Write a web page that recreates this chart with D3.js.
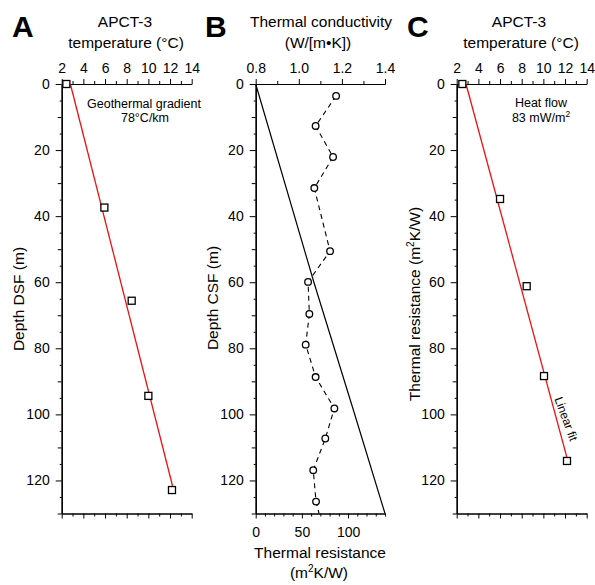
<!DOCTYPE html>
<html>
<head>
<meta charset="utf-8">
<script src="https://cdn.jsdelivr.net/npm/d3@7/dist/d3.min.js"></script>
<style>
  html, body { margin: 0; padding: 0; background: #fff; }
  svg { display: block; font-family: "Liberation Sans", Arial, Helvetica, sans-serif; }
</style>
</head>
<body>
<script>
// ---------------- DATA ----------------
const tempTicks = [2, 4, 6, 8, 10, 12, 14];
const depthTicks = [0, 20, 40, 60, 80, 100, 120];
const condTicks = [0.8, 1.0, 1.2, 1.4];
const resTicks = [0, 50, 100];

// Panel A: APCT-3 temperature vs depth
const depthA = [0, 37.4, 65.6, 94.4, 122.9];
const tempA = [2.43, 5.94, 8.46, 10.0, 12.18];
const fitADepth = [0, 122.5];
const fitATemp = [2.80, 12.30];

// Panel B: thermal conductivity vs depth
const depthB = [3.6, 12.7, 22.1, 31.5, 50.6, 59.9, 69.6, 78.9, 88.7, 98.2, 107.3, 116.9, 126.4];
const condB = [1.173, 1.078, 1.159, 1.072, 1.145, 1.043, 1.049, 1.032, 1.078, 1.165, 1.123, 1.067, 1.080];
const condTailDepth = [126.4, 130];
const condTail = [1.080, 1.094];
// Thermal resistance vs depth (solid line)
const resDepth = [0, 60, 98, 130];
const resistance = [0, 63, 105, 140];

// Panel C: temperature vs thermal resistance
const resC = [0, 34.8, 61.2, 88.4, 114.1];
const tempC = [2.52, 6.0, 8.46, 10.06, 12.18];
const fitCRes = [0, 114];
const fitCTemp = [2.86, 12.25];

// ---------------- LAYOUT ----------------
const W = 595, H = 585;
const yTop = 84, yBot = 513.5;
const svg = d3.select("body").append("svg").attr("width", W).attr("height", H);

const y = d3.scaleLinear().domain([0, 130]).range([yTop, yBot]);
const xA = d3.scaleLinear().domain([2, 14]).range([61.7, 191.7]);
const xB = d3.scaleLinear().domain([0.8, 1.4]).range([255.7, 385]);
const xBres = d3.scaleLinear().domain([0, 140]).range([255.7, 385]);
const xC = d3.scaleLinear().domain([2, 14]).range([456.7, 586.7]);

const TICK_FONT = "14px";

function styleAxis(g) {
  g.select(".domain").attr("stroke", "#000").attr("stroke-width", 1);
  g.selectAll(".tick line").attr("stroke", "#000").attr("stroke-width", 1);
  g.selectAll(".tick text").attr("fill", "#000").style("font-size", TICK_FONT);
}

function leftAxis(x0) {
  const g = svg.append("g").attr("transform", `translate(${x0},0)`);
  const minor5 = d3.range(5, 131, 10);
  const minor10 = d3.range(10, 131, 20);
  g.append("g").call(d3.axisLeft(y).tickValues(minor5).tickSize(2).tickFormat("").tickSizeOuter(0)).call(styleAxis);
  g.append("g").call(d3.axisLeft(y).tickValues(minor10).tickSize(4).tickFormat("").tickSizeOuter(0)).call(styleAxis);
  g.append("g").call(d3.axisLeft(y).tickValues(depthTicks).tickSize(6).tickPadding(6).tickSizeOuter(0)).call(styleAxis);
}

function tempAxes(x) {
  const minors = d3.range(3, 14, 2);
  // top
  const gt = svg.append("g").attr("transform", `translate(0,${yTop})`);
  gt.append("g").call(d3.axisTop(x).tickValues(minors).tickSize(3).tickFormat("").tickSizeOuter(0)).call(styleAxis);
  gt.append("g").call(d3.axisTop(x).tickValues(tempTicks).tickSize(5).tickPadding(6).tickSizeOuter(0)).call(styleAxis);
  // bottom (no labels)
  const gb = svg.append("g").attr("transform", `translate(0,${yBot})`);
  gb.append("g").call(d3.axisBottom(x).tickValues(minors).tickSize(3).tickFormat("").tickSizeOuter(0)).call(styleAxis);
  gb.append("g").call(d3.axisBottom(x).tickValues(tempTicks).tickSize(5).tickFormat("").tickSizeOuter(0)).call(styleAxis);
}

// ---------- Panel A ----------
leftAxis(xA.range()[0]);
tempAxes(xA);

const fitA = d3.range(fitADepth.length).map(i => [fitATemp[i], fitADepth[i]]);
svg.append("path").datum(fitA)
  .attr("d", d3.line().x(d => xA(d[0])).y(d => y(d[1])))
  .attr("fill", "none").attr("stroke", "#ee1111").attr("stroke-width", 1.3);

const sq = 7;
svg.append("g").selectAll("rect").data(d3.range(depthA.length)).join("rect")
  .attr("x", i => xA(tempA[i]) - sq / 2).attr("y", i => y(depthA[i]) - sq / 2)
  .attr("width", sq).attr("height", sq)
  .attr("fill", "#fff").attr("stroke", "#000").attr("stroke-width", 1.3);

// ---------- Panel B ----------
leftAxis(xB.range()[0]);
{
  const gt = svg.append("g").attr("transform", `translate(0,${yTop})`);
  gt.append("g").call(d3.axisTop(xB).tickValues([0.9, 1.1, 1.3]).tickSize(3).tickFormat("").tickSizeOuter(0)).call(styleAxis);
  gt.append("g").call(d3.axisTop(xB).tickValues(condTicks).tickSize(5).tickPadding(6).tickFormat(d3.format(".1f")).tickSizeOuter(0)).call(styleAxis);
  const gb = svg.append("g").attr("transform", `translate(0,${yBot})`);
  gb.append("g").call(d3.axisBottom(xBres).tickValues(d3.range(10, 141, 10).filter(v => v % 50 !== 0)).tickSize(3).tickFormat("").tickSizeOuter(0)).call(styleAxis);
  gb.append("g").call(d3.axisBottom(xBres).tickValues(resTicks).tickSize(5).tickPadding(9).tickSizeOuter(0)).call(styleAxis);
}

const resLine = d3.range(resDepth.length).map(i => [resistance[i], resDepth[i]]);
svg.append("path").datum(resLine)
  .attr("d", d3.line().x(d => xBres(d[0])).y(d => y(d[1])))
  .attr("fill", "none").attr("stroke", "#000").attr("stroke-width", 1.2);

const condLine = d3.range(depthB.length).map(i => [condB[i], depthB[i]])
  .concat(d3.range(1, condTail.length).map(i => [condTail[i], condTailDepth[i]]));
svg.append("path").datum(condLine)
  .attr("d", d3.line().x(d => xB(d[0])).y(d => y(d[1])))
  .attr("fill", "none").attr("stroke", "#000").attr("stroke-width", 1.1)
  .attr("stroke-dasharray", "5,4");

svg.append("g").selectAll("circle").data(d3.range(depthB.length)).join("circle")
  .attr("cx", i => xB(condB[i])).attr("cy", i => y(depthB[i])).attr("r", 3.3)
  .attr("fill", "#fff").attr("stroke", "#000").attr("stroke-width", 1.3);

// ---------- Panel C ----------
leftAxis(xC.range()[0]);
tempAxes(xC);

const fitC = d3.range(fitCRes.length).map(i => [fitCTemp[i], fitCRes[i]]);
svg.append("path").datum(fitC)
  .attr("d", d3.line().x(d => xC(d[0])).y(d => y(d[1])))
  .attr("fill", "none").attr("stroke", "#ee1111").attr("stroke-width", 1.3);

svg.append("g").selectAll("rect").data(d3.range(resC.length)).join("rect")
  .attr("x", i => xC(tempC[i]) - sq / 2).attr("y", i => y(resC[i]) - sq / 2)
  .attr("width", sq).attr("height", sq)
  .attr("fill", "#fff").attr("stroke", "#000").attr("stroke-width", 1.3);

// ---------------- TEXT ----------------
function txt(x, yy, s, size, opts = {}) {
  const t = svg.append("text").attr("x", x).attr("y", yy).text(s)
    .style("font-size", size + "px").attr("fill", "#000")
    .attr("text-anchor", opts.anchor || "middle");
  if (opts.bold) t.style("font-weight", "bold");
  return t;
}

// Panel letters
txt(12, 37, "A", 30, { anchor: "start", bold: true });
txt(205, 37, "B", 30, { anchor: "start", bold: true });
txt(407, 37, "C", 30, { anchor: "start", bold: true });

// Top titles
txt(125, 27, "APCT-3", 15.5);
txt(126, 48, "temperature (°C)", 15.5);
txt(321, 27, "Thermal conductivity", 15.5);
txt(318, 48, "(W/[m•K])", 15.5);
txt(519, 27, "APCT-3", 15.5);
txt(521, 48, "temperature (°C)", 15.5);

// Annotations
txt(144, 108, "Geothermal gradient", 12.5);
txt(145, 122, "78°C/km", 12.5);
txt(541, 107, "Heat flow", 12.5);
{
  const t = txt(541, 122, "83 mW/m", 12.5);
  t.append("tspan").text("2").style("font-size", "8.5px").attr("dy", -5);
}
svg.append("text")
  .attr("transform", "translate(566,419) rotate(70)")
  .attr("text-anchor", "middle").attr("dominant-baseline", "central")
  .style("font-size", "12px").attr("fill", "#000").text("Linear fit");

// Bottom title panel B
txt(320, 558, "Thermal resistance", 15.5);
{
  const t = txt(319, 578, "(m", 15.5);
  t.append("tspan").text("2").style("font-size", "10px").attr("dy", -6);
  t.append("tspan").text("K/W)").attr("dy", 6);
}

// Y axis titles
function ytitle(x, yy, parts) {
  const t = svg.append("text")
    .attr("transform", `translate(${x},${yy}) rotate(-90)`)
    .attr("text-anchor", "middle").style("font-size", "15.5px").attr("fill", "#000");
  parts.forEach(p => {
    const s = t.append("tspan").text(p.t);
    if (p.sup) s.style("font-size", "10px").attr("dy", -6);
    if (p.after) s.attr("dy", 6);
  });
}
ytitle(24, 299, [{ t: "Depth DSF (m)" }]);
ytitle(218, 298, [{ t: "Depth CSF (m)" }]);
ytitle(420, 304, [{ t: "Thermal resistance (m" }, { t: "2", sup: true }, { t: "K/W)", after: true }]);
</script>
</body>
</html>
